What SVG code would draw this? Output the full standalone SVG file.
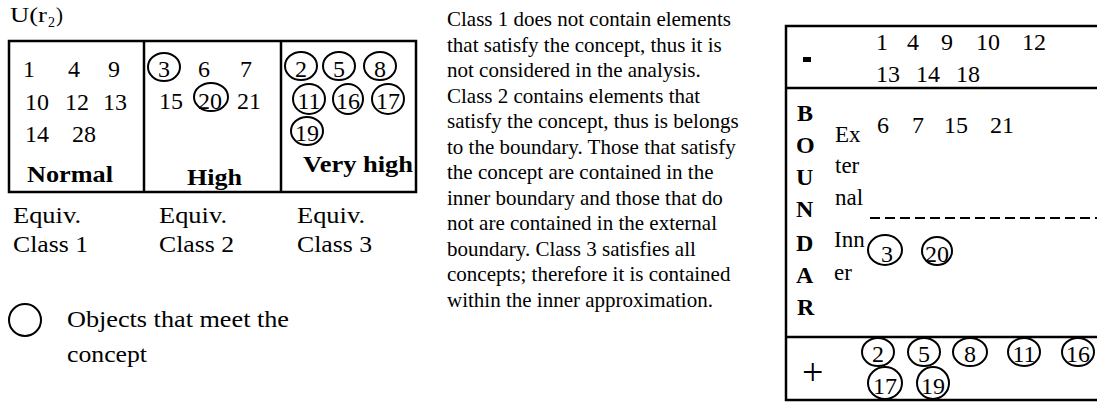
<svg xmlns="http://www.w3.org/2000/svg" width="1097" height="405" viewBox="0 0 1097 405">
<style>
text{font-family:"Liberation Serif","Times New Roman",serif;fill:#000}
.n{font-size:24px}
.c{font-size:24px;text-anchor:middle}
.b{font-size:24px;font-weight:bold}
.p{font-size:21px}
.s{font-size:24px}
.t{font-size:23px}
.line{stroke:#000;stroke-width:2.5;fill:none}
.o{stroke:#000;stroke-width:2;fill:none}
</style>
<rect width="1097" height="405" fill="#fff"/>

<g id="title">
<text x="10" y="22" style="font-size:21px" textLength="37" lengthAdjust="spacingAndGlyphs">U(r</text>
<text x="48" y="27" style="font-size:14px">2</text>
<text x="56" y="22" style="font-size:21px">)</text>
</g>

<g id="table-left">
<rect class="line" x="9" y="41" width="407" height="151"/>
<line class="line" x1="144" y1="41" x2="144" y2="192"/>
<line class="line" x1="281" y1="41" x2="281" y2="192"/>
</g>

<g id="class1">
<text class="n" x="23" y="77">1</text>
<text class="n" x="68" y="77">4</text>
<text class="n" x="108" y="77">9</text>
<text class="n" x="25" y="110">10</text>
<text class="n" x="65" y="110">12</text>
<text class="n" x="103" y="110">13</text>
<text class="n" x="25" y="142">14</text>
<text class="n" x="72" y="142">28</text>
<text class="b" x="27" y="182" textLength="86" lengthAdjust="spacingAndGlyphs">Normal</text>
</g>

<g id="class2">
<ellipse class="o" cx="164" cy="67" rx="16" ry="14"/>
<text class="c" x="164" y="77">3</text>
<text class="n" x="198" y="77">6</text>
<text class="n" x="240" y="77">7</text>
<text class="n" x="159" y="109">15</text>
<ellipse class="o" cx="211" cy="97" rx="17" ry="14"/>
<text class="c" x="210" y="109">20</text>
<text class="n" x="237" y="109">21</text>
<text class="b" x="187" y="185" textLength="55" lengthAdjust="spacingAndGlyphs">High</text>
</g>

<g id="class3">
<ellipse class="o" cx="301" cy="66" rx="16" ry="14"/>
<text class="c" x="301" y="77">2</text>
<ellipse class="o" cx="339" cy="66" rx="16" ry="14"/>
<text class="c" x="339" y="77">5</text>
<ellipse class="o" cx="380" cy="66" rx="16" ry="14"/>
<text class="c" x="380" y="77">8</text>
<ellipse class="o" cx="309" cy="99" rx="16" ry="15"/>
<text class="c" x="309" y="109">11</text>
<ellipse class="o" cx="348" cy="99" rx="15" ry="15"/>
<text class="c" x="348" y="109">16</text>
<ellipse class="o" cx="388" cy="99" rx="16" ry="15"/>
<text class="c" x="388" y="109">17</text>
<ellipse class="o" cx="307" cy="131" rx="16" ry="14"/>
<text class="c" x="307" y="141">19</text>
<text class="b" x="303" y="172" textLength="110" lengthAdjust="spacingAndGlyphs">Very high</text>
</g>

<g id="labels">
<text class="s" x="13" y="223" textLength="68" lengthAdjust="spacingAndGlyphs">Equiv.</text>
<text class="s" x="13" y="252" textLength="75" lengthAdjust="spacingAndGlyphs">Class 1</text>
<text class="s" x="159" y="223" textLength="68" lengthAdjust="spacingAndGlyphs">Equiv.</text>
<text class="s" x="159" y="252" textLength="75" lengthAdjust="spacingAndGlyphs">Class 2</text>
<text class="s" x="297" y="223" textLength="68" lengthAdjust="spacingAndGlyphs">Equiv.</text>
<text class="s" x="297" y="252" textLength="75" lengthAdjust="spacingAndGlyphs">Class 3</text>
</g>

<g id="legend">
<ellipse class="o" cx="25" cy="320" rx="16" ry="16"/>
<text class="s" x="67" y="327" textLength="222" lengthAdjust="spacingAndGlyphs">Objects that meet the</text>
<text class="s" x="67" y="362" textLength="80" lengthAdjust="spacingAndGlyphs">concept</text>
</g>

<g id="explanation">
<text class="p" x="447" y="26">Class 1 does not contain elements</text>
<text class="p" x="447" y="51.5">that satisfy the concept, thus it is</text>
<text class="p" x="447" y="77">not considered in the analysis.</text>
<text class="p" x="447" y="102.5">Class 2 contains elements that</text>
<text class="p" x="447" y="128">satisfy the concept, thus is belongs</text>
<text class="p" x="447" y="153.5">to the boundary. Those that satisfy</text>
<text class="p" x="447" y="179">the concept are contained in the</text>
<text class="p" x="447" y="204.5">inner boundary and those that do</text>
<text class="p" x="447" y="230">not are contained in the external</text>
<text class="p" x="447" y="255.5">boundary. Class 3 satisfies all</text>
<text class="p" x="447" y="281">concepts; therefore it is contained</text>
<text class="p" x="447" y="306.5">within the inner approximation.</text>
</g>

<g id="table-right">
<polyline class="line" points="1100,26 786,26 786,400 1100,400"/>
<line class="line" x1="786" y1="88" x2="1100" y2="88"/>
<line class="line" x1="786" y1="337" x2="1100" y2="337"/>
<line x1="870" y1="218" x2="1100" y2="218" stroke="#000" stroke-width="2" stroke-dasharray="10,5"/>
</g>

<g id="negative-region">
<rect x="803" y="57" width="8" height="5" fill="#000"/>
<text class="n" x="876" y="50">1</text>
<text class="n" x="907" y="50">4</text>
<text class="n" x="941" y="50">9</text>
<text class="n" x="976" y="50">10</text>
<text class="n" x="1022" y="50">12</text>
<text class="n" x="876" y="82">13</text>
<text class="n" x="916" y="82">14</text>
<text class="n" x="956" y="82">18</text>
</g>

<g id="boundary-region">
<text class="b" x="797" y="121">B</text>
<text class="b" x="796" y="153">O</text>
<text class="b" x="796" y="185">U</text>
<text class="b" x="796" y="217">N</text>
<text class="b" x="796" y="251">D</text>
<text class="b" x="796" y="283">A</text>
<text class="b" x="797" y="315">R</text>
<text class="t" x="835" y="142">Ex</text>
<text class="t" x="835" y="173">ter</text>
<text class="t" x="835" y="205">nal</text>
<text class="n" x="877" y="133">6</text>
<text class="n" x="912" y="133">7</text>
<text class="n" x="944" y="133">15</text>
<text class="n" x="990" y="133">21</text>
<text class="t" x="834" y="247">Inn</text>
<text class="t" x="834" y="280">er</text>
<ellipse class="o" cx="885" cy="250" rx="17" ry="15"/>
<text class="c" x="887" y="262">3</text>
<ellipse class="o" cx="937" cy="251" rx="15" ry="14"/>
<text class="c" x="937" y="262">20</text>
</g>

<g id="positive-region">
<text x="802" y="385" style="font-size:38px">+</text>
<ellipse class="o" cx="878" cy="352" rx="16" ry="14"/>
<text class="c" x="878" y="362">2</text>
<ellipse class="o" cx="924" cy="352" rx="16" ry="14"/>
<text class="c" x="924" y="362">5</text>
<ellipse class="o" cx="970" cy="352" rx="17" ry="14"/>
<text class="c" x="970" y="362">8</text>
<ellipse class="o" cx="1024" cy="352" rx="16" ry="14"/>
<text class="c" x="1024" y="362">11</text>
<ellipse class="o" cx="1078" cy="352" rx="16" ry="14"/>
<text class="c" x="1078" y="362">16</text>
<ellipse class="o" cx="885" cy="383" rx="17" ry="16"/>
<text class="c" x="885" y="394">17</text>
<ellipse class="o" cx="933" cy="383" rx="16" ry="16"/>
<text class="c" x="933" y="394">19</text>
</g>
</svg>
